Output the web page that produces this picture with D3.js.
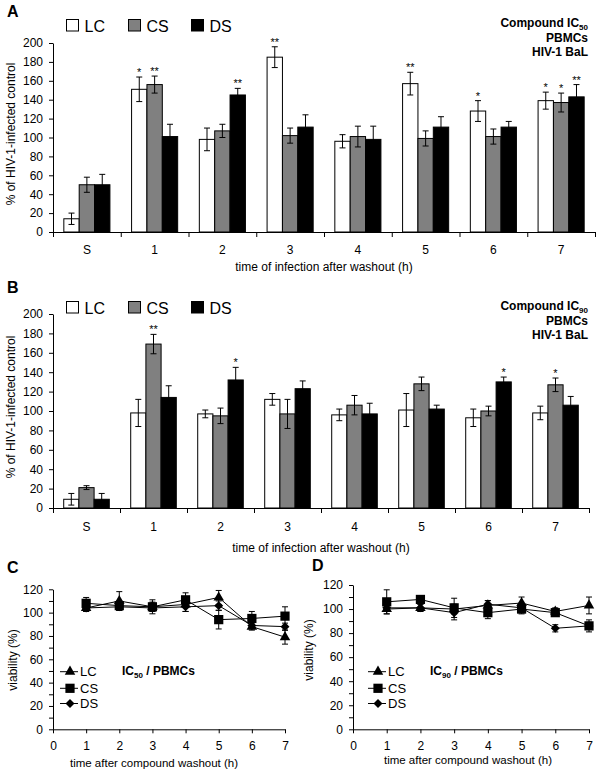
<!DOCTYPE html>
<html><head><meta charset="utf-8">
<script src="https://cdn.jsdelivr.net/npm/d3@7"></script>
<style>
body{margin:0;background:#fff}
svg{display:block}
text{font-family:"Liberation Sans",Arial,sans-serif;fill:#000}
</style>
</head><body>
<svg id="c" width="600" height="771"></svg>
<script>
// ---------- DATA ----------
const categories = ["S","1","2","3","4","5","6","7"];
const series = ["LC","CS","DS"];
const seriesFill = ["#ffffff","#808080","#000000"];
const barTicks = [0,20,40,60,80,100,120,140,160,180,200];

// Panel A: Compound IC50
const aLC    = [14,151,98,185,96,157,128,139];
const aLCerr = [6,13,12,11,7,12,11,9];
const aCS    = [50,156,107,102,101,99,101,137];
const aCSerr = [8,9,7,8,11,8,8,10];
const aDS    = [50,101,145,111,98,111,111,143];
const aDSerr = [11,13,7,13,14,11,6,13];
const aLCsig = ["","*","","**","","**","*","*"];
const aCSsig = ["","**","","","","","","*"];
const aDSsig = ["","","**","","","","","**"];

// Panel B: Compound IC90
const bLC    = [9,98,97,112,96,101,93,98];
const bLCerr = [6,14,4,6,6,17,9,7];
const bCS    = [21,169,95,97,106,128,100,127];
const bCSerr = [2,10,8,15,10,7,5,7];
const bDS    = [9,114,132,123,97,102,130,106];
const bDSerr = [6,12,13,8,11,4,5,9];
const bLCsig = ["","","","","","","",""];
const bCSsig = ["","**","","","","","","*"];
const bDSsig = ["","","*","","","","*",""];

// Panels C/D: viability
const times = [1,2,3,4,5,6,7];
const timeTicks = [0,1,2,3,4,5,6,7];
const viabTicks = [0,10,20,30,40,50,60,70,80,90,100,110,120];
const cLC    = [104,110,105,107,113,88,79];
const cLCerr = [3,8,4,6,6,3,6];
const cCS    = [108,106,105,111,94,95,97];
const cCSerr = [5,4,6,6,8,6,8];
const cDS    = [104,105,104,105,106,89,88];
const cDSerr = [3,3,3,4,4,3,3];
const dLC    = [100,101,100,103,105,98,103];
const dLCerr = [4,3,4,4,5,3,7];
const dCS    = [106,108,101,97,100,97,86];
const dCSerr = [10,3,8,5,4,3,5];
const dDS    = [101,101,97,104,101,84,86];
const dDSerr = [3,3,6,3,3,3,3];

// ---------- DRAW ----------
const svg = d3.select("#c");

function styleAxis(g, fs){
  g.selectAll("path,line").attr("stroke","#000").attr("stroke-width",1);
  g.selectAll("text").attr("font-size",fs).attr("font-family","Liberation Sans, Arial, sans-serif").attr("fill","#000");
  g.attr("font-family",null).attr("font-size",null);
}

function barPanel(p){
  const g = svg.append("g");
  const x = d3.scaleBand().domain(categories).range([p.x0,p.x1]).padding(0);
  const xi = d3.scaleBand().domain(series).range([0,x.bandwidth()]).paddingInner(0).paddingOuter(0.705);
  const y = d3.scaleLinear().domain([0,200]).range([p.yZero,p.yTop]);
  const rows = categories.flatMap((c,ci)=>series.map((s,si)=>({c,s,si,v:p.vals[si][ci],e:p.errs[si][ci],sig:p.sigs[si][ci]})));

  g.selectAll("rect.bar").data(rows).join("rect").attr("class","bar")
    .attr("x",d=>x(d.c)+xi(d.s)).attr("width",xi.bandwidth())
    .attr("y",d=>y(d.v)).attr("height",d=>y(0)-y(d.v))
    .attr("fill",d=>seriesFill[d.si]).attr("stroke","#000").attr("stroke-width",1);

  const cx = d=>x(d.c)+xi(d.s)+xi.bandwidth()/2;
  const eb = g.selectAll("g.eb").data(rows).join("g").attr("class","eb").attr("stroke","#000").attr("stroke-width",1);
  eb.append("line").attr("x1",cx).attr("x2",cx).attr("y1",d=>y(d.v+d.e)).attr("y2",d=>y(d.v-d.e));
  eb.append("line").attr("x1",d=>cx(d)-3).attr("x2",d=>cx(d)+3).attr("y1",d=>y(d.v+d.e)).attr("y2",d=>y(d.v+d.e));
  eb.append("line").attr("x1",d=>cx(d)-3).attr("x2",d=>cx(d)+3).attr("y1",d=>y(d.v-d.e)).attr("y2",d=>y(d.v-d.e));

  g.selectAll("text.sig").data(rows.filter(d=>d.sig)).join("text").attr("class","sig")
    .attr("x",cx).attr("y",d=>y(d.v+d.e)-1).attr("text-anchor","middle").attr("font-size",11).text(d=>d.sig);

  // y axis
  const ya = g.append("g").attr("transform",`translate(${p.x0},0)`)
    .call(d3.axisLeft(y).tickValues(barTicks).tickSize(4).tickSizeOuter(0).tickPadding(6));
  styleAxis(ya,12);
  // x axis: boundary ticks
  const xb = d3.scaleLinear().domain([0,categories.length]).range([p.x0,p.x1]);
  const xa = g.append("g").attr("transform",`translate(0,${p.yZero})`)
    .call(d3.axisBottom(xb).ticks(categories.length).tickFormat("").tickSize(5).tickSizeOuter(5));
  styleAxis(xa,12);
  const xl = g.append("g").attr("transform",`translate(0,${p.yZero})`)
    .call(d3.axisBottom(x).tickSize(0).tickPadding(p.tickPad));
  xl.select(".domain").remove();
  styleAxis(xl,12);

  // axis titles
  g.append("text").attr("transform",`translate(15,${p.yTitleY}) rotate(-90)`)
    .attr("text-anchor","middle").attr("font-size",12).text("% of HIV-1-infected control");
  g.append("text").attr("x",(p.x0+p.x1)/2).attr("y",p.xTitleY).attr("text-anchor","middle")
    .attr("font-size",12).text("time of infection after washout (h)");

  // legend
  const lx = [66.5,128.5,191.5];
  series.forEach((s,si)=>{
    g.append("rect").attr("x",lx[si]).attr("y",p.legY).attr("width",12).attr("height",11.5)
      .attr("fill",seriesFill[si]).attr("stroke","#000").attr("stroke-width",1);
    g.append("text").attr("x",lx[si]+18).attr("y",p.legY+12).attr("font-size",16).text(s);
  });
  // panel letter
  g.append("text").attr("x",7).attr("y",p.letterY).attr("font-size",16).attr("font-weight","bold").text(p.letter);
  // title
  const t1 = g.append("text").attr("x",588).attr("y",p.titleY[0]).attr("text-anchor","end")
    .attr("font-size",12).attr("font-weight","bold");
  t1.append("tspan").text("Compound IC");
  t1.append("tspan").attr("font-size",8).attr("dy",3).text(p.ic);
  g.append("text").attr("x",588).attr("y",p.titleY[1]).attr("text-anchor","end").attr("font-size",12).attr("font-weight","bold").text("PBMCs");
  g.append("text").attr("x",588).attr("y",p.titleY[2]).attr("text-anchor","end").attr("font-size",12).attr("font-weight","bold").text("HIV-1 BaL");
}

barPanel({x0:53,x1:595,yZero:232,yTop:43,vals:[aLC,aCS,aDS],errs:[aLCerr,aCSerr,aDSerr],sigs:[aLCsig,aCSsig,aDSsig],
  tickPad:13.5,yTitleY:134,xTitleY:271,legY:19.5,letter:"A",letterY:17,titleY:[27,41.5,56],ic:"50"});
barPanel({x0:53,x1:589,yZero:508,yTop:314,vals:[bLC,bCS,bDS],errs:[bLCerr,bCSerr,bDSerr],sigs:[bLCsig,bCSsig,bDSsig],
  tickPad:14.5,yTitleY:407,xTitleY:552,legY:301.5,letter:"B",letterY:293,titleY:[310,325,339],ic:"90"});

const symbols = [d3.symbol().type(d3.symbolTriangle).size(48), d3.symbol().type(d3.symbolSquare).size(85), d3.symbol().type(d3.symbolSquare).size(40)];
const symRot = [0,0,45];

function linePanel(p){
  const g = svg.append("g");
  const x = d3.scaleLinear().domain([0,7]).range([p.x0,p.x1]);
  const y = d3.scaleLinear().domain([0,120]).range([p.yZero,p.yTop]);
  const line = d3.line().x((d,i)=>x(times[i])).y(d=>y(d));
  series.forEach((s,si)=>{
    const vals=p.vals[si], errs=p.errs[si];
    g.append("path").datum(vals).attr("d",line).attr("fill","none").attr("stroke","#000").attr("stroke-width",1);
    const pts = vals.map((v,i)=>({t:times[i],v,e:errs[i]}));
    const eb = g.append("g").attr("stroke","#000").attr("stroke-width",1);
    eb.selectAll("line.v").data(pts).join("line").attr("class","v").attr("x1",d=>x(d.t)).attr("x2",d=>x(d.t)).attr("y1",d=>y(d.v+d.e)).attr("y2",d=>y(d.v-d.e));
    eb.selectAll("line.t").data(pts).join("line").attr("class","t").attr("x1",d=>x(d.t)-3).attr("x2",d=>x(d.t)+3).attr("y1",d=>y(d.v+d.e)).attr("y2",d=>y(d.v+d.e));
    eb.selectAll("line.b").data(pts).join("line").attr("class","b").attr("x1",d=>x(d.t)-3).attr("x2",d=>x(d.t)+3).attr("y1",d=>y(d.v-d.e)).attr("y2",d=>y(d.v-d.e));
    g.selectAll(null).data(pts).join("path").attr("d",symbols[si]())
      .attr("transform",d=>`translate(${x(d.t)},${y(d.v)}) rotate(${symRot[si]})`).attr("fill","#000");
  });
  const ya = g.append("g").attr("transform",`translate(${p.x0},0)`)
    .call(d3.axisLeft(y).tickValues(viabTicks).tickFormat(d=>d%20===0?d:"").tickSize(4).tickSizeOuter(0).tickPadding(6));
  styleAxis(ya,12);
  const xa = g.append("g").attr("transform",`translate(0,${p.yZero})`)
    .call(d3.axisBottom(x).tickValues(timeTicks).tickFormat(d3.format("d")).tickSize(4).tickSizeOuter(0).tickPadding(8));
  styleAxis(xa,12);
  g.append("text").attr("transform",`translate(${p.yTitleX},${p.yTitleY}) rotate(-90)`)
    .attr("text-anchor","middle").attr("font-size",12).text("viability (%)");
  g.append("text").attr("x",p.xTitleX).attr("y",p.xTitleY).attr("text-anchor","middle")
    .attr("font-size",11.5).text("time after compound washout (h)");
  // legend
  const ly = [671.7,688.3,703.5];
  series.forEach((s,si)=>{
    g.append("line").attr("x1",p.legX).attr("x2",p.legX+18).attr("y1",ly[si]).attr("y2",ly[si]).attr("stroke","#000").attr("stroke-width",1);
    g.append("path").attr("d",symbols[si]()).attr("transform",`translate(${p.legX+10},${ly[si]}) rotate(${symRot[si]})`).attr("fill","#000");
    g.append("text").attr("x",p.legX+20).attr("y",ly[si]+4.5).attr("font-size",13).text(s);
  });
  const t = g.append("text").attr("x",p.icX).attr("y",675).attr("font-size",12).attr("font-weight","bold");
  t.append("tspan").text("IC");
  t.append("tspan").attr("font-size",8).attr("dy",3).text(p.ic);
  t.append("tspan").attr("dy",-3).text(" / PBMCs");
  g.append("text").attr("x",p.letterX).attr("y",p.letterY).attr("font-size",16).attr("font-weight","bold").text(p.letter);
}

linePanel({x0:53,x1:285,yZero:729.3,yTop:589.3,vals:[cLC,cCS,cDS],errs:[cLCerr,cCSerr,cDSerr],
  yTitleX:17,yTitleY:660,xTitleX:154,xTitleY:767,legX:60,icX:122,ic:"50",letter:"C",letterX:7,letterY:573});
linePanel({x0:353,x1:589,yZero:729.3,yTop:585,vals:[dLC,dCS,dDS],errs:[dLCerr,dCSerr,dDSerr],
  yTitleX:313,yTitleY:650,xTitleX:468,xTitleY:764,legX:368,icX:430,ic:"90",letter:"D",letterX:312,letterY:571});
</script>
</body></html>
